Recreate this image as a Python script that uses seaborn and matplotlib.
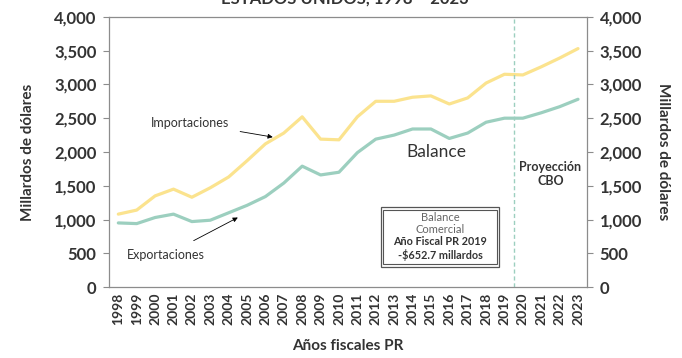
import numpy as np
import pandas as pd
import seaborn as sns
import matplotlib.pyplot as plt
from matplotlib.patches import Rectangle

# fiscal years and series (billions of dollars)
years = list(range(1998, 2024))
importaciones = [1080, 1140, 1350, 1450, 1330, 1470, 1630, 1870, 2120, 2280,
                 2520, 2190, 2180, 2520, 2750, 2750, 2810, 2830, 2710, 2800,
                 3020, 3150, 3140, 3260, 3390, 3530]
exportaciones = [950, 940, 1030, 1080, 970, 990, 1100, 1210, 1340, 1540,
                 1790, 1660, 1700, 1990, 2190, 2250, 2340, 2340, 2200, 2280,
                 2440, 2500, 2500, 2580, 2670, 2780]
yticks = [0, 500, 1000, 1500, 2000, 2500, 3000, 3500, 4000]
corte_proyeccion = 2019.5

col_imp = "#FBE38E"
col_exp = "#9CCFBF"
txt = "#333333"
grey = "#8c8c8c"

df = pd.DataFrame({"Año": years, "Importaciones": importaciones,
                   "Exportaciones": exportaciones})
long = df.melt(id_vars="Año", var_name="serie", value_name="valor")

sns.set_style("white")
plt.rcParams["font.family"] = ["Lato", "DejaVu Sans"]

fig = plt.figure(figsize=(6.82, 3.58), dpi=100)
ax = fig.add_axes([0.160, 0.198, 0.701, 0.755])

sns.lineplot(data=long, x="Año", y="valor", hue="serie",
             palette={"Importaciones": col_imp, "Exportaciones": col_exp},
             linewidth=2.3, legend=False, ax=ax)

ax.axvline(corte_proyeccion, color=col_exp, linestyle=(0, (3, 2)), linewidth=1)

ax.set_xlim(years[0] - 0.5, years[-1] + 0.5)
ax.set_ylim(0, 4000)
ax.set_yticks(yticks)
ax.set_yticklabels([f"{v:,}" for v in yticks])
ax.set_xticks(years)
ax.set_xticklabels([str(y) for y in years], rotation=90)
ax.set_xticks(np.arange(years[0] - 0.5, years[-1] + 1), minor=True)
ax.tick_params(axis="x", which="major", length=0, pad=4,
               labelsize=10, labelcolor=txt)
ax.tick_params(axis="x", which="minor", length=4, color=grey, width=0.8)
ax.tick_params(axis="y", length=4, color=grey, width=0.8, pad=5,
               labelsize=12, labelcolor=txt)
for lab in ax.get_xticklabels() + ax.get_yticklabels():
    lab.set_fontweight("bold")

for side in ["left", "right", "top", "bottom"]:
    ax.spines[side].set_visible(True)
    ax.spines[side].set_color(grey)
    ax.spines[side].set_linewidth(0.9)

ax.set_xlabel("Años fiscales PR", fontsize=11, fontweight="bold",
              color=txt, labelpad=10)
ax.set_ylabel("Millardos de dólares", fontsize=11, fontweight="bold",
              color=txt, labelpad=14)

# right-hand axis mirrors the left one
ax2 = ax.twinx()
ax2.set_ylim(ax.get_ylim())
ax2.set_yticks(yticks)
ax2.set_yticklabels([f"{v:,}" for v in yticks])
ax2.tick_params(axis="y", length=4, color=grey, width=0.8, pad=5,
                labelsize=12, labelcolor=txt)
for lab in ax2.get_yticklabels():
    lab.set_fontweight("bold")
for side in ax2.spines:
    ax2.spines[side].set_visible(False)
ax2.set_ylabel("Millardos de dólares", fontsize=11, fontweight="bold",
               color=txt, rotation=-90, labelpad=20)

# annotations
ax.annotate("Importaciones", xy=(2006.4, 2220), xytext=(2004.0, 2430),
            ha="right", va="center", fontsize=9, color=txt,
            arrowprops=dict(arrowstyle="-|>", color="black", lw=0.6,
                            mutation_scale=7, shrinkA=6, shrinkB=0))
ax.annotate("Exportaciones", xy=(2004.5, 1030), xytext=(2000.6, 474),
            ha="center", va="center", fontsize=9, color=txt,
            arrowprops=dict(arrowstyle="-|>", color="black", lw=0.6,
                            mutation_scale=7, shrinkA=8, shrinkB=0))
ax.text(2015.3, 2000, "Balance", ha="center", va="center",
        fontsize=12.5, color=txt)
ax.text(2021.5, 1670, "Proyección\nCBO", ha="center", va="center",
        fontsize=9, fontweight="bold", color=txt, linespacing=1.2)

# boxed trade-balance note
bx0, bx1 = 2012.3, 2018.7
by0, by1 = 296, 1185
ax.add_patch(Rectangle((bx0, by0), bx1 - bx0, by1 - by0, fill=True,
                       facecolor="white", edgecolor="#555555", lw=0.9))
ax.add_patch(Rectangle((bx0 + 0.12, by0 + 40), bx1 - bx0 - 0.24,
                       by1 - by0 - 80, fill=False,
                       edgecolor="#555555", lw=0.8))
cx = (bx0 + bx1) / 2
ax.text(cx, 1035, "Balance", ha="center", va="center", fontsize=8,
        color="#666666")
ax.text(cx, 860, "Comercial", ha="center", va="center", fontsize=8,
        color="#666666")
ax.text(cx, 675, "Año Fiscal PR 2019", ha="center", va="center",
        fontsize=7.8, fontweight="bold", color=txt)
ax.text(cx, 475, "-$652.7 millardos", ha="center", va="center",
        fontsize=7.8, fontweight="bold", color=txt)

fig.text(0.505, 1 - 4 / 358, "ESTADOS UNIDOS, 1998 – 2023", ha="center",
         va="baseline", fontsize=12, fontweight="bold", color=txt)

fig.savefig("out.png", dpi=100)
